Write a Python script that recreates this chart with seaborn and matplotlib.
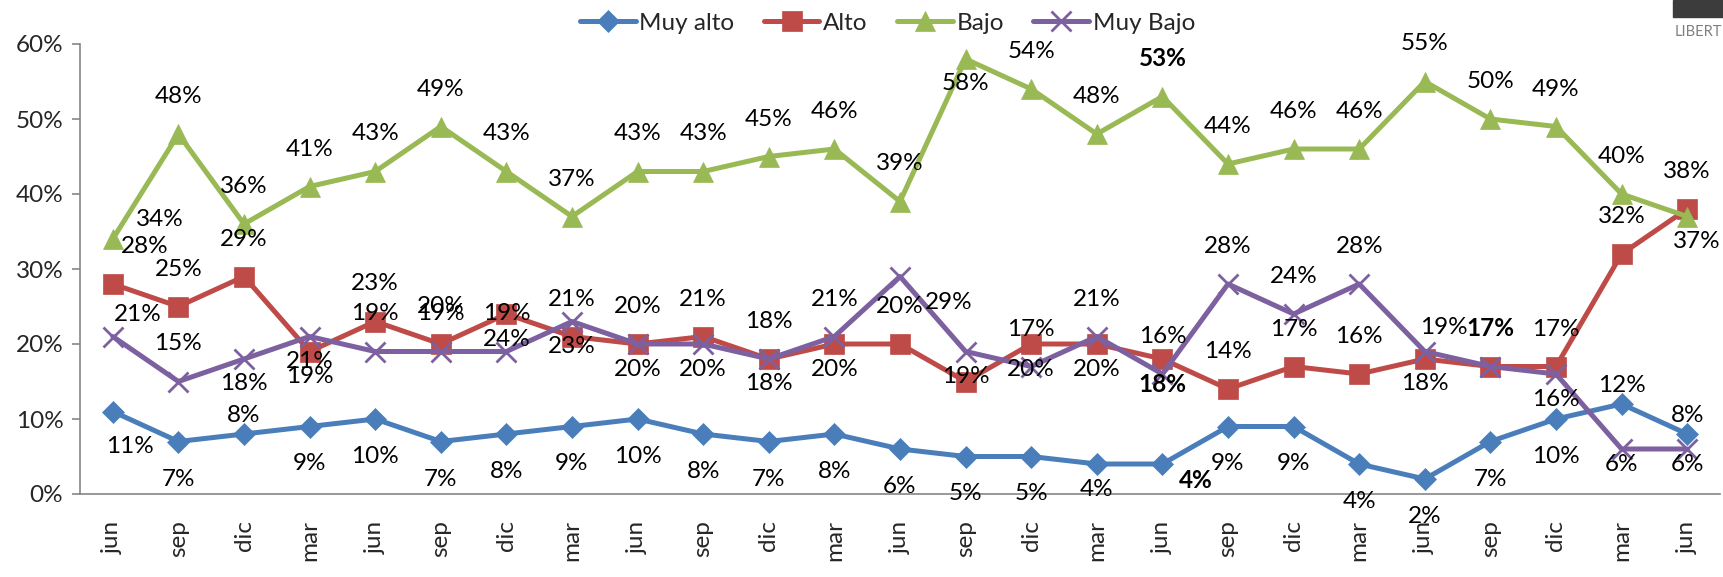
import pandas as pd
import matplotlib
matplotlib.use("Agg")
import matplotlib.pyplot as plt
from matplotlib.patches import Rectangle
from matplotlib.ticker import FixedLocator, FuncFormatter
import seaborn as sns

# Datos (porcentajes)
meses = ['jun', 'sep', 'dic', 'mar', 'jun', 'sep', 'dic', 'mar', 'jun', 'sep', 'dic', 'mar',
         'jun', 'sep', 'dic', 'mar', 'jun', 'sep', 'dic', 'mar', 'jun', 'sep', 'dic', 'mar', 'jun']
muy_alto = [11, 7, 8, 9, 10, 7, 8, 9, 10, 8, 7, 8, 6, 5, 5, 4, 4, 9, 9, 4, 2, 7, 10, 12, 8]
alto = [28, 25, 29, 19, 23, 20, 24, 21, 20, 21, 18, 20, 20, 15, 20, 20, 18, 14, 17, 16, 18, 17, 17, 32, 38]
bajo = [34, 48, 36, 41, 43, 49, 43, 37, 43, 43, 45, 46, 39, 58, 54, 48, 53, 44, 46, 46, 55, 50, 49, 40, 37]
muy_bajo = [21, 15, 18, 21, 19, 19, 19, 23, 20, 20, 18, 21, 29, 19, 17, 21, 16, 28, 24, 28, 19, 17, 16, 6, 6]

series = ['Muy alto', 'Alto', 'Bajo', 'Muy Bajo']
colores = {'Muy alto': '#4A7EBB', 'Alto': '#BE4B48', 'Bajo': '#98B954', 'Muy Bajo': '#7D60A0'}
marcadores = {'Muy alto': ('D', 11), 'Alto': ('s', 14), 'Bajo': ('^', 15), 'Muy Bajo': ('x', 14)}
TAM = 17.5

# Posición de las etiquetas (desplazamiento en puntos)
desp = {'a': (0, 27), 'b': (0, -18), 'B': (0, -27), 'A': (0, 13), 'n': None}
pos_etiquetas = {
    'Muy alto': [(12, -25), 'B', 'A', 'B', 'B', 'B', 'B', 'B', 'B', 'B', 'B', 'B', 'B', 'B', 'B',
                 'b', (24, -12), 'B', 'B', 'B', 'B', 'B', 'B', 'A', 'A'],
    'Alto': [(23, 27), 'a', 'a', 'b', 'a', 'a', 'b', 'a', 'b', 'a', 'a', 'b', 'a', 'n', 'b',
             'b', 'b', 'a', 'a', 'a', 'b', 'a', 'a', 'a', 'a'],
    'Bajo': [(34, 14), 'a', 'a', 'a', 'a', 'a', 'a', 'a', 'a', 'a', 'a', 'a', 'a', 'b', 'a',
             'a', 'a', 'a', 'a', 'a', 'a', 'a', 'a', 'a', (7, -18)],
    'Muy Bajo': [(18, 16), 'a', 'b', 'b', 'a', 'a', 'a', 'b', 'a', 'b', 'b', 'a', (35, -19), 'b', 'a',
                 'a', 'a', 'a', 'a', 'a', (14, 17), 'n', 'b', (0, -11), (0, -11)],
}
negrita = {('Bajo', 16), ('Alto', 16), ('Muy alto', 16), ('Alto', 21)}

df = pd.DataFrame({'pos': range(len(meses)), 'mes': meses,
                   'Muy alto': muy_alto, 'Alto': alto, 'Bajo': bajo, 'Muy Bajo': muy_bajo})
df_largo = df.melt(id_vars=['pos', 'mes'], var_name='serie', value_name='valor')

sns.set_style("white")
plt.rcParams['font.family'] = ['Lato', 'DejaVu Sans']

fig = plt.figure(figsize=(17.23, 5.77), dpi=100)
ax = fig.add_axes([80 / 1723, 1 - 494 / 577, 1640 / 1723, 450 / 577])

for nombre in series:
    m, ms = marcadores[nombre]
    sns.lineplot(data=df_largo[df_largo['serie'] == nombre], x='pos', y='valor',
                 color=colores[nombre], linewidth=3.6, marker=m, markersize=ms,
                 markeredgecolor=colores[nombre], markeredgewidth=2 if m == 'x' else 0.5,
                 label=nombre, ax=ax, legend=False)

# Etiquetas de datos
for nombre in series:
    sub = df_largo[df_largo['serie'] == nombre].reset_index(drop=True)
    for i, fila in sub.iterrows():
        p = pos_etiquetas[nombre][i]
        off = desp[p] if isinstance(p, str) else p
        if off is None:
            continue
        ax.annotate(f"{fila['valor']:.0f}%", (fila['pos'], fila['valor']), xytext=off,
                    textcoords='offset points', ha='center', va='center', fontsize=TAM,
                    fontweight='bold' if (nombre, i) in negrita else 'normal',
                    color='black', zorder=10, annotation_clip=False)

# Ejes
ax.set_xlim(-0.5, len(meses) - 0.5)
ax.set_ylim(0, 60)
ax.set_yticks(range(0, 61, 10))
ax.yaxis.set_major_formatter(FuncFormatter(lambda v, _: f"{v:.0f}%"))
ax.set_xticks(range(len(meses)))
ax.set_xticklabels(meses, rotation=90, fontsize=TAM)
ax.xaxis.set_minor_locator(FixedLocator([i - 0.5 for i in range(len(meses) + 1)]))
ax.tick_params(axis='x', which='major', length=0, pad=19)
ax.tick_params(axis='x', which='minor', length=62, width=1.2, color='#868686', direction='out')
ax.tick_params(axis='y', which='major', length=6, width=1.2, color='#868686', direction='out',
               labelsize=TAM, pad=6, left=True)
ax.set_xlabel('')
ax.set_ylabel('')
for lado in ['top', 'right']:
    ax.spines[lado].set_visible(False)
for lado in ['left', 'bottom']:
    ax.spines[lado].set_color('#868686')
    ax.spines[lado].set_linewidth(1.2)

ax.legend(loc='center', bbox_to_anchor=(0.515, 0.960), bbox_transform=fig.transFigure,
          ncol=4, frameon=False, fontsize=TAM, handlelength=2.3, handletextpad=0.15,
          columnspacing=1.2, borderpad=0)

# Fragmento del logotipo recortado
fig.patches.append(Rectangle((1673 / 1723, 1 - 17 / 577), 50 / 1723, 17 / 577,
                             transform=fig.transFigure, color='#3C3C3C', zorder=0))
fig.text(1675 / 1723, 1 - 32 / 577, 'LIBERT', fontsize=10.5, color='#7F7F7F', ha='left', va='center')

fig.savefig('out.png', dpi=100)
